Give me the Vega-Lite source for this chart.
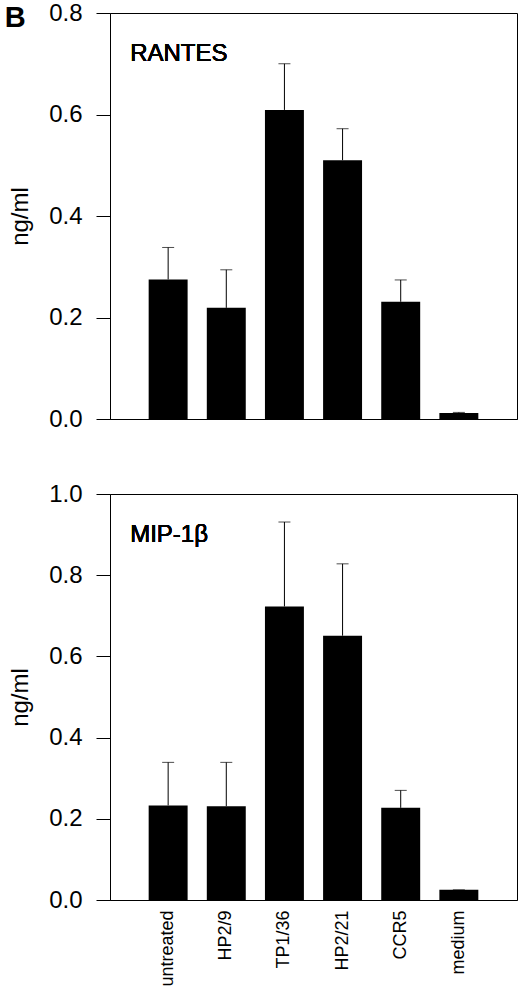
{
  "$schema": "https://vega.github.io/schema/vega-lite/v6.json",
  "padding": {"left": 4, "top": 0, "right": 3, "bottom": 2},
  "background": "white",
  "config": {
    "font": "Liberation Sans",
    "view": {"stroke": "black", "strokeWidth": 1},
    "axis": {
      "domainColor": "black",
      "tickColor": "black",
      "labelColor": "black",
      "titleColor": "black",
      "grid": false
    }
  },
  "datasets": {
    "rantes": [
      {"treatment": "untreated", "value": 0.275, "upper": 0.338},
      {"treatment": "HP2/9", "value": 0.219, "upper": 0.294},
      {"treatment": "TP1/36", "value": 0.609, "upper": 0.700},
      {"treatment": "HP2/21", "value": 0.510, "upper": 0.572},
      {"treatment": "CCR5", "value": 0.231, "upper": 0.274},
      {"treatment": "medium", "value": 0.012, "upper": 0.013}
    ],
    "mip": [
      {"treatment": "untreated", "value": 0.233, "upper": 0.339},
      {"treatment": "HP2/9", "value": 0.231, "upper": 0.339},
      {"treatment": "TP1/36", "value": 0.723, "upper": 0.931},
      {"treatment": "HP2/21", "value": 0.651, "upper": 0.828},
      {"treatment": "CCR5", "value": 0.227, "upper": 0.270},
      {"treatment": "medium", "value": 0.025, "upper": 0.025}
    ]
  },
  "bounds": "flush",
  "spacing": 75,
  "vconcat": [
    {
      "width": 407,
      "height": 406,
      "title": {"text": "B", "anchor": "start", "frame": "bounds", "orient": "top", "baseline": "top", "offset": -32, "dx": -4, "fontSize": 29, "fontWeight": "bold", "color": "black"},
      "data": {"name": "rantes"},
      "encoding": {
        "x": {
          "field": "treatment", "type": "nominal", "sort": null,
          "scale": {"paddingInner": 0.33, "paddingOuter": 0.665},
          "axis": {"labels": false, "ticks": false, "title": null, "domain": true}
        }
      },
      "layer": [
        {
          "mark": {"type": "rule", "color": "black", "strokeWidth": 1},
          "encoding": {"y": {"field": "value", "type": "quantitative"}, "y2": {"field": "upper"}}
        },
        {
          "mark": {"type": "tick", "orient": "horizontal", "size": 12, "thickness": 1, "color": "black"},
          "encoding": {"y": {"field": "upper", "type": "quantitative"}}
        },
        {
          "mark": {"type": "bar", "color": "black"},
          "encoding": {
            "y": {
              "field": "value", "type": "quantitative",
              "scale": {"domain": [0, 0.8], "nice": false, "zero": true},
              "axis": {
                "title": "ng/ml", "values": [0, 0.2, 0.4, 0.6, 0.8], "format": ".1f",
                "labelFontSize": 24, "titleFontSize": 24, "titleFontWeight": "normal",
                "tickSize": 14, "labelPadding": 14, "titlePadding": 16
              }
            }
          }
        },
        {
          "mark": {"type": "text", "text": "RANTES", "fontSize": 24, "fontWeight": "normal", "align": "left", "baseline": "middle", "dx": -38, "color": "black"},
          "encoding": {"x": {"datum": "untreated"}, "y": {"datum": 0.719}}
        }
      ]
    },
    {
      "width": 407,
      "height": 406,
      "data": {"name": "mip"},
      "encoding": {
        "x": {
          "field": "treatment", "type": "nominal", "sort": null,
          "scale": {"paddingInner": 0.33, "paddingOuter": 0.665},
          "axis": {"labelAngle": -90, "labelFontSize": 18, "ticks": false, "labelPadding": 10, "title": null, "domain": true, "labelAlign": "right", "labelBaseline": "middle"}
        }
      },
      "layer": [
        {
          "mark": {"type": "rule", "color": "black", "strokeWidth": 1},
          "encoding": {"y": {"field": "value", "type": "quantitative"}, "y2": {"field": "upper"}}
        },
        {
          "mark": {"type": "tick", "orient": "horizontal", "size": 12, "thickness": 1, "color": "black"},
          "encoding": {"y": {"field": "upper", "type": "quantitative"}}
        },
        {
          "mark": {"type": "bar", "color": "black"},
          "encoding": {
            "y": {
              "field": "value", "type": "quantitative",
              "scale": {"domain": [0, 1.0], "nice": false, "zero": true},
              "axis": {
                "title": "ng/ml", "values": [0, 0.2, 0.4, 0.6, 0.8, 1.0], "format": ".1f",
                "labelFontSize": 24, "titleFontSize": 24, "titleFontWeight": "normal",
                "tickSize": 14, "labelPadding": 14, "titlePadding": 16
              }
            }
          }
        },
        {
          "mark": {"type": "text", "text": "MIP-1β", "fontSize": 24, "fontWeight": "normal", "align": "left", "baseline": "middle", "dx": -38, "color": "black"},
          "encoding": {"x": {"datum": "untreated"}, "y": {"datum": 0.899}}
        }
      ]
    }
  ]
}
